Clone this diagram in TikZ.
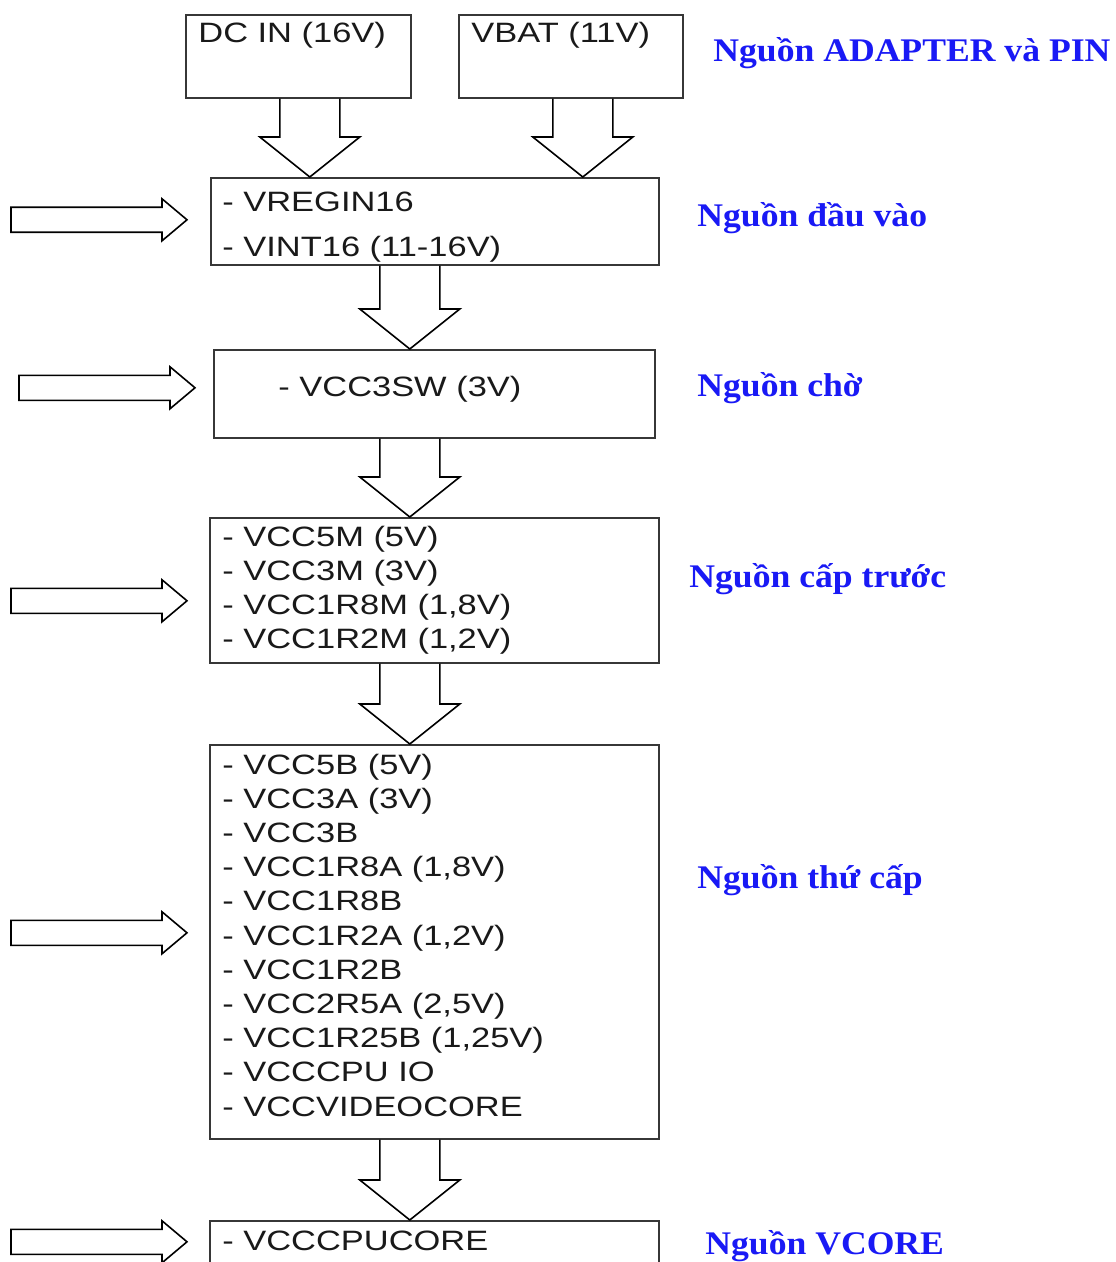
\documentclass[tikz,border=0pt]{standalone}
\usepackage{fontspec}
\usepackage{tikz}
\usetikzlibrary{calc}
\newfontfamily\boxfont[FakeStretch=1.23]{Liberation Sans}
\newfontfamily\notefont[FakeStretch=1.08]{Liberation Serif}
\definecolor{boxgray}{RGB}{55,55,55}
\definecolor{noteblue}{RGB}{25,25,245}
\tikzset{
  box/.style={draw=boxgray, line width=0.8pt, anchor=north west, inner sep=0pt},
  vtxt/.style={anchor=base west, inner sep=0pt, text=black!90, font=\boxfont\fontsize{14}{17}\selectfont},
  note/.style={anchor=base west, inner sep=0pt, text=noteblue, font=\notefont\bfseries\fontsize{16.5}{19}\selectfont},
  hollow/.style={draw=black, line width=0.8pt, line join=miter}
}
% block arrow downwards: shaft x from #1, tip on #2
\newcommand{\flowdown}[2]{\draw[hollow] let \p1=#1, \p2=#2 in
  (\x1-15pt,\y1) -- (\x1-15pt,\y2+20pt) -- (\x1-25pt,\y2+20pt) -- (\x1,\y2)
  -- (\x1+25pt,\y2+20pt) -- (\x1+15pt,\y2+20pt) -- (\x1+15pt,\y1);}
% block arrow to the right, tip at #1
\newcommand{\flowright}[1]{\draw[hollow] let \p1=#1 in
  (\x1,\y1) -- (\x1-12.5pt,\y1+10.5pt) -- (\x1-12.5pt,\y1+6.25pt) -- (\x1-88pt,\y1+6.25pt)
  -- (\x1-88pt,\y1-6.25pt) -- (\x1-12.5pt,\y1-6.25pt) -- (\x1-12.5pt,\y1-10.5pt) -- cycle;}

\begin{document}
\begin{tikzpicture}[x=0.5pt,y=-0.5pt]
\clip (0,0) rectangle (1115,1262);
\fill[white] (0,0) rectangle (1115,1262);
% sources
\node[box, minimum width=112.5pt, minimum height=41.5pt] (dcin) at (185,14) {};
\node[box, minimum width=112pt, minimum height=41.5pt] (vbat) at (458,14) {};
\node[vtxt] (dcintxt) at (198,43) {DC IN (16V)};
\node[vtxt] (vbattxt) at (471,43) {VBAT (11V)};
% rails
\node[box, minimum width=224pt, minimum height=43.5pt] (vreg) at (210,177) {};
\node[box, minimum width=220.5pt, minimum height=44pt] (stby) at (213,349) {};
\node[box, minimum width=224.5pt, minimum height=72.5pt] (pre) at (209,517) {};
\node[box, minimum width=224.5pt, minimum height=197pt] (sec) at (209,744) {};
\node[box, minimum width=224.5pt, minimum height=40pt] (core) at (209,1220) {};
\node[vtxt] (vreg1) at (222,212) {- VREGIN16};
\node[vtxt] (vreg2) at (222,257) {- VINT16 (11-16V)};
\node[vtxt] (stby1) at (278,396) {- VCC3SW (3V)};
\foreach \t [count=\i] in {{- VCC5M (5V)}, {- VCC3M (3V)}, {- VCC1R8M (1,8V)}, {- VCC1R2M (1,2V)}}
  \node[vtxt] (pre\i) at (222,{546+34.3*(\i-1)}) {\t};
\foreach \t [count=\i] in {{- VCC5B (5V)}, {- VCC3A (3V)}, {- VCC3B}, {- VCC1R8A (1,8V)}, {- VCC1R8B},
    {- VCC1R2A (1,2V)}, {- VCC1R2B}, {- VCC2R5A (2,5V)}, {- VCC1R25B (1,25V)}, {- VCCCPU IO}, {- VCCVIDEOCORE}}
  \node[vtxt] (sec\i) at (222,{774+34.2*(\i-1)}) {\t};
\node[vtxt] (core1) at (222,1250) {- VCCCPUCORE};
% connectors
\flowdown{([xshift=5.75pt]dcin.south)}{(vreg.north)}
\flowdown{([xshift=6pt]vbat.south)}{(vreg.north)}
\flowdown{([xshift=-12.5pt]vreg.south)}{(stby.north)}
\flowdown{([xshift=-12.25pt]stby.south)}{(pre.north)}
\flowdown{([xshift=-12.25pt]pre.south)}{(sec.north)}
\flowdown{([xshift=-12.25pt]sec.south)}{(core.north)}
\flowright{([xshift=-11.5pt,yshift=0.75pt]vreg.west)}
\flowright{([xshift=-9pt,yshift=3pt]stby.west)}
\flowright{([xshift=-11pt,yshift=-5.25pt]pre.west)}
\flowright{([xshift=-11pt,yshift=4.5pt]sec.west)}
\flowright{([xshift=-11pt,yshift=9.5pt]core.west)}
% stage names
\node[note] (n1) at (713,62) {Nguồn ADAPTER và PIN};
\node[note] (n2) at (697,227) {Nguồn đầu vào};
\node[note] (n3) at (697,396) {Nguồn chờ};
\node[note] (n4) at (689,587) {Nguồn cấp trước};
\node[note] (n5) at (697,888) {Nguồn thứ cấp};
\node[note] (n6) at (705,1254) {Nguồn VCORE};
\end{tikzpicture}
\end{document}
